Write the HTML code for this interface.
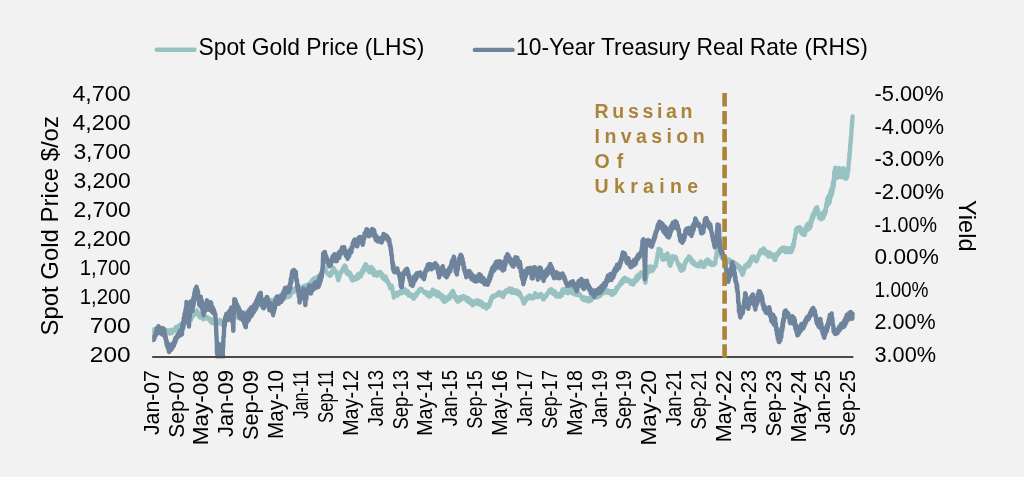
<!DOCTYPE html>
<html><head><meta charset="utf-8"><title>Spot Gold Price vs 10-Year Treasury Real Rate</title>
<style>html,body{margin:0;padding:0;background:#f2f2f2;}svg{display:block;}text{font-family:"Liberation Sans", Arial, sans-serif;fill:#000;}</style>
</head><body>
<svg width="1024" height="477" viewBox="0 0 1024 477">
<rect x="0" y="0" width="1024" height="477" fill="#f2f2f2"/>
<line x1="156.8" y1="49.8" x2="194.4" y2="49.8" stroke="#98c2c2" stroke-width="4.4" stroke-linecap="round"/>
<text x="198.5" y="54.8" font-size="24" textLength="225.8" lengthAdjust="spacingAndGlyphs">Spot Gold Price (LHS)</text>
<line x1="474.8" y1="49.9" x2="512.6" y2="49.9" stroke="#6e849d" stroke-width="4.4" stroke-linecap="round"/>
<text x="516.0" y="54.8" font-size="24" textLength="351.8" lengthAdjust="spacingAndGlyphs">10-Year Treasury Real Rate (RHS)</text>
<text transform="translate(57.5,335.5) rotate(-90)" font-size="24" textLength="219.4" lengthAdjust="spacingAndGlyphs">Spot Gold Price $/oz</text>
<text transform="translate(959.3,200.0) rotate(90)" font-size="24" textLength="51.5" lengthAdjust="spacingAndGlyphs">Yield</text>
<text x="130.7" y="100.65" font-size="21.8" text-anchor="end" textLength="58.3" lengthAdjust="spacingAndGlyphs">4,700</text>
<text x="130.7" y="129.69" font-size="21.8" text-anchor="end" textLength="58.3" lengthAdjust="spacingAndGlyphs">4,200</text>
<text x="130.7" y="158.73" font-size="21.8" text-anchor="end" textLength="57.3" lengthAdjust="spacingAndGlyphs">3,700</text>
<text x="130.7" y="187.77" font-size="21.8" text-anchor="end" textLength="57.3" lengthAdjust="spacingAndGlyphs">3,200</text>
<text x="130.7" y="216.81" font-size="21.8" text-anchor="end" textLength="57.3" lengthAdjust="spacingAndGlyphs">2,700</text>
<text x="130.7" y="245.85" font-size="21.8" text-anchor="end" textLength="57.3" lengthAdjust="spacingAndGlyphs">2,200</text>
<text x="130.7" y="274.89" font-size="21.8" text-anchor="end" textLength="51.0" lengthAdjust="spacingAndGlyphs">1,700</text>
<text x="130.7" y="303.93" font-size="21.8" text-anchor="end" textLength="51.0" lengthAdjust="spacingAndGlyphs">1,200</text>
<text x="130.7" y="332.97" font-size="21.8" text-anchor="end" textLength="40.9" lengthAdjust="spacingAndGlyphs">700</text>
<text x="130.7" y="362.01" font-size="21.8" text-anchor="end" textLength="40.9" lengthAdjust="spacingAndGlyphs">200</text>
<text x="874.5" y="101.20" font-size="21.8" textLength="69.1" lengthAdjust="spacingAndGlyphs">-5.00%</text>
<text x="874.5" y="133.80" font-size="21.8" textLength="69.6" lengthAdjust="spacingAndGlyphs">-4.00%</text>
<text x="874.5" y="166.40" font-size="21.8" textLength="69.6" lengthAdjust="spacingAndGlyphs">-3.00%</text>
<text x="874.5" y="199.00" font-size="21.8" textLength="69.6" lengthAdjust="spacingAndGlyphs">-2.00%</text>
<text x="874.5" y="231.60" font-size="21.8" textLength="62.4" lengthAdjust="spacingAndGlyphs">-1.00%</text>
<text x="874.5" y="264.20" font-size="21.8" textLength="64.3" lengthAdjust="spacingAndGlyphs">0.00%</text>
<text x="874.5" y="296.80" font-size="21.8" textLength="54.0" lengthAdjust="spacingAndGlyphs">1.00%</text>
<text x="874.5" y="329.40" font-size="21.8" textLength="61.1" lengthAdjust="spacingAndGlyphs">2.00%</text>
<text x="874.5" y="362.00" font-size="21.8" textLength="61.6" lengthAdjust="spacingAndGlyphs">3.00%</text>
<text transform="translate(158.70,370.1) rotate(-90)" font-size="21.8" text-anchor="end" textLength="64.9" lengthAdjust="spacingAndGlyphs">Jan-07</text>
<text transform="translate(183.58,370.1) rotate(-90)" font-size="21.8" text-anchor="end" textLength="67.7" lengthAdjust="spacingAndGlyphs">Sep-07</text>
<text transform="translate(208.46,370.1) rotate(-90)" font-size="21.8" text-anchor="end" textLength="75.1" lengthAdjust="spacingAndGlyphs">May-08</text>
<text transform="translate(233.34,370.1) rotate(-90)" font-size="21.8" text-anchor="end" textLength="66.9" lengthAdjust="spacingAndGlyphs">Jan-09</text>
<text transform="translate(258.22,370.1) rotate(-90)" font-size="21.8" text-anchor="end" textLength="69.9" lengthAdjust="spacingAndGlyphs">Sep-09</text>
<text transform="translate(283.10,370.1) rotate(-90)" font-size="21.8" text-anchor="end" textLength="68.8" lengthAdjust="spacingAndGlyphs">May-10</text>
<text transform="translate(307.98,370.1) rotate(-90)" font-size="21.8" text-anchor="end" textLength="48.6" lengthAdjust="spacingAndGlyphs">Jan-11</text>
<text transform="translate(332.86,370.1) rotate(-90)" font-size="21.8" text-anchor="end" textLength="52.9" lengthAdjust="spacingAndGlyphs">Sep-11</text>
<text transform="translate(357.74,370.1) rotate(-90)" font-size="21.8" text-anchor="end" textLength="65.7" lengthAdjust="spacingAndGlyphs">May-12</text>
<text transform="translate(382.62,370.1) rotate(-90)" font-size="21.8" text-anchor="end" textLength="56.1" lengthAdjust="spacingAndGlyphs">Jan-13</text>
<text transform="translate(407.50,370.1) rotate(-90)" font-size="21.8" text-anchor="end" textLength="59.3" lengthAdjust="spacingAndGlyphs">Sep-13</text>
<text transform="translate(432.38,370.1) rotate(-90)" font-size="21.8" text-anchor="end" textLength="65.7" lengthAdjust="spacingAndGlyphs">May-14</text>
<text transform="translate(457.26,370.1) rotate(-90)" font-size="21.8" text-anchor="end" textLength="56.1" lengthAdjust="spacingAndGlyphs">Jan-15</text>
<text transform="translate(482.14,370.1) rotate(-90)" font-size="21.8" text-anchor="end" textLength="58.7" lengthAdjust="spacingAndGlyphs">Sep-15</text>
<text transform="translate(507.02,370.1) rotate(-90)" font-size="21.8" text-anchor="end" textLength="65.7" lengthAdjust="spacingAndGlyphs">May-16</text>
<text transform="translate(531.90,370.1) rotate(-90)" font-size="21.8" text-anchor="end" textLength="56.1" lengthAdjust="spacingAndGlyphs">Jan-17</text>
<text transform="translate(556.78,370.1) rotate(-90)" font-size="21.8" text-anchor="end" textLength="58.7" lengthAdjust="spacingAndGlyphs">Sep-17</text>
<text transform="translate(581.66,370.1) rotate(-90)" font-size="21.8" text-anchor="end" textLength="65.7" lengthAdjust="spacingAndGlyphs">May-18</text>
<text transform="translate(606.54,370.1) rotate(-90)" font-size="21.8" text-anchor="end" textLength="57.2" lengthAdjust="spacingAndGlyphs">Jan-19</text>
<text transform="translate(631.42,370.1) rotate(-90)" font-size="21.8" text-anchor="end" textLength="59.3" lengthAdjust="spacingAndGlyphs">Sep-19</text>
<text transform="translate(656.30,370.1) rotate(-90)" font-size="21.8" text-anchor="end" textLength="75.4" lengthAdjust="spacingAndGlyphs">May-20</text>
<text transform="translate(681.18,370.1) rotate(-90)" font-size="21.8" text-anchor="end" textLength="56.1" lengthAdjust="spacingAndGlyphs">Jan-21</text>
<text transform="translate(706.06,370.1) rotate(-90)" font-size="21.8" text-anchor="end" textLength="59.3" lengthAdjust="spacingAndGlyphs">Sep-21</text>
<text transform="translate(730.94,370.1) rotate(-90)" font-size="21.8" text-anchor="end" textLength="72.1" lengthAdjust="spacingAndGlyphs">May-22</text>
<text transform="translate(755.82,370.1) rotate(-90)" font-size="21.8" text-anchor="end" textLength="63.3" lengthAdjust="spacingAndGlyphs">Jan-23</text>
<text transform="translate(780.70,370.1) rotate(-90)" font-size="21.8" text-anchor="end" textLength="66.3" lengthAdjust="spacingAndGlyphs">Sep-23</text>
<text transform="translate(805.58,370.1) rotate(-90)" font-size="21.8" text-anchor="end" textLength="72.5" lengthAdjust="spacingAndGlyphs">May-24</text>
<text transform="translate(830.46,370.1) rotate(-90)" font-size="21.8" text-anchor="end" textLength="63.3" lengthAdjust="spacingAndGlyphs">Jan-25</text>
<text transform="translate(855.34,370.1) rotate(-90)" font-size="21.8" text-anchor="end" textLength="66.3" lengthAdjust="spacingAndGlyphs">Sep-25</text>
<clipPath id="pc"><rect x="152.2" y="0" width="704" height="358.3"/></clipPath>
<path clip-path="url(#pc)" d="M152.3,330.5 L152.8,332.1 L153.3,329.7 L153.8,331.3 L154.3,329.3 L154.8,330.9 L155.0,329.5 L155.3,331.3 L155.8,329.2 L156.3,332.2 L156.8,330.0 L157.3,332.0 L157.8,330.4 L158.3,332.4 L158.8,330.1 L159.3,332.8 L159.8,330.2 L160.0,333.0 L160.3,330.4 L160.8,332.2 L161.3,331.1 L161.8,332.5 L162.3,331.0 L162.8,331.9 L163.3,331.5 L163.8,332.2 L164.0,331.7 L164.3,331.9 L164.8,331.3 L165.3,332.0 L165.8,331.6 L166.3,332.2 L166.8,331.0 L167.0,332.7 L167.3,330.1 L167.8,332.9 L168.3,331.1 L168.8,333.2 L169.3,331.6 L169.8,333.5 L170.0,330.7 L170.3,332.8 L170.8,330.0 L171.3,332.5 L171.8,329.8 L172.0,333.0 L172.3,330.1 L172.8,331.4 L173.3,330.3 L173.8,330.6 L174.3,330.0 L174.8,330.4 L175.0,328.7 L175.3,330.5 L175.8,327.3 L176.3,329.3 L176.8,326.7 L177.3,329.1 L177.8,326.7 L178.3,327.0 L178.8,325.9 L179.3,326.9 L179.8,324.9 L180.0,326.1 L180.3,324.9 L180.8,326.0 L181.3,324.1 L181.8,325.9 L182.0,323.4 L182.3,325.3 L182.8,322.9 L183.3,324.5 L183.8,322.4 L184.3,324.0 L184.8,320.5 L185.3,322.6 L185.8,320.3 L186.3,322.4 L186.8,318.9 L187.3,321.4 L187.8,317.7 L188.0,320.1 L188.3,316.9 L188.8,320.3 L189.3,316.7 L189.8,319.4 L190.3,316.7 L190.8,320.2 L191.0,316.0 L191.3,319.0 L191.8,315.7 L192.3,317.1 L192.8,315.3 L193.0,316.0 L193.3,315.1 L193.8,315.0 L194.3,313.4 L194.8,314.3 L195.0,312.5 L195.3,314.5 L195.8,311.0 L196.3,313.8 L196.8,310.3 L197.0,312.9 L197.3,311.1 L197.8,313.7 L198.3,313.0 L198.8,315.2 L199.0,313.4 L199.3,316.7 L199.8,314.7 L200.3,317.6 L200.8,315.9 L201.0,317.4 L201.3,316.2 L201.8,317.8 L202.3,317.8 L202.8,318.7 L203.0,318.1 L203.3,319.2 L203.8,318.3 L204.3,318.6 L204.8,317.3 L205.3,317.8 L205.8,316.7 L206.0,317.5 L206.3,317.2 L206.8,318.5 L207.3,317.1 L207.8,318.6 L208.3,317.8 L208.8,319.4 L209.0,318.3 L209.3,319.7 L209.8,318.7 L210.3,321.4 L210.8,318.8 L211.3,322.1 L211.8,319.6 L212.3,323.1 L212.4,320.3 L212.8,322.7 L213.3,320.2 L213.8,322.6 L214.3,321.3 L214.8,322.2 L215.3,321.5 L215.5,322.9 L215.8,321.4 L216.3,322.9 L216.8,321.2 L217.3,323.4 L217.8,321.8 L218.3,322.8 L218.6,321.7 L218.8,323.0 L219.3,320.6 L219.8,322.6 L220.0,320.0 L220.3,322.8 L220.8,320.6 L221.3,324.0 L221.7,321.6 L221.8,324.5 L222.3,321.6 L222.8,324.3 L223.3,320.6 L223.8,323.5 L224.3,320.4 L224.8,321.4 L225.3,320.0 L225.8,320.9 L226.3,319.7 L226.8,320.0 L227.3,318.8 L227.8,320.1 L227.9,318.1 L228.3,318.0 L228.8,316.7 L229.3,316.7 L229.8,314.6 L230.3,315.0 L230.8,313.8 L231.0,313.9 L231.3,313.2 L231.8,314.4 L232.3,313.2 L232.8,314.7 L233.3,313.2 L233.8,315.4 L234.1,313.7 L234.3,315.5 L234.8,313.9 L235.3,316.6 L235.8,314.2 L236.3,316.8 L236.8,314.6 L237.2,317.5 L237.3,314.8 L237.8,317.5 L238.3,314.8 L238.8,316.9 L239.3,314.2 L239.8,316.1 L240.3,313.2 L240.8,315.8 L241.3,312.9 L241.8,315.2 L242.3,312.3 L242.8,313.7 L243.3,313.1 L243.4,314.0 L243.8,313.0 L244.3,314.4 L244.8,312.5 L245.3,314.2 L245.8,312.4 L246.3,314.9 L246.5,313.4 L246.8,315.1 L247.3,313.2 L247.8,314.1 L248.3,312.6 L248.8,314.0 L249.3,312.2 L249.6,313.7 L249.8,312.4 L250.3,314.2 L250.8,312.1 L251.3,312.9 L251.8,310.9 L252.3,312.8 L252.7,310.2 L252.8,312.2 L253.3,309.1 L253.8,310.6 L254.3,308.2 L254.8,310.7 L255.3,307.3 L255.8,309.4 L256.3,306.8 L256.8,307.6 L257.3,304.4 L257.8,305.7 L258.3,303.2 L258.8,305.0 L258.9,301.5 L259.3,303.2 L259.8,302.0 L260.3,303.5 L260.8,301.2 L261.3,303.5 L261.8,300.9 L262.0,304.1 L262.3,301.2 L262.8,303.7 L263.3,301.0 L263.8,304.2 L264.3,301.2 L264.8,303.7 L265.2,302.5 L265.3,303.7 L265.8,302.9 L266.3,303.7 L266.8,302.9 L267.3,304.3 L267.8,303.1 L268.3,305.8 L268.8,301.9 L269.3,304.2 L269.8,301.2 L270.3,303.1 L270.8,300.1 L271.3,301.8 L271.4,300.4 L271.8,301.2 L272.3,300.7 L272.8,301.2 L273.3,300.0 L273.8,300.5 L274.3,299.7 L274.5,300.5 L274.8,298.7 L275.3,300.5 L275.8,297.9 L276.3,299.9 L276.8,296.5 L277.3,298.5 L277.6,296.3 L277.8,298.6 L278.3,297.2 L278.8,298.6 L279.3,295.7 L279.8,298.6 L280.3,295.5 L280.7,298.1 L280.8,295.5 L281.3,299.2 L281.8,296.4 L282.3,299.8 L282.8,296.4 L283.3,299.0 L283.8,297.0 L284.3,298.8 L284.8,295.9 L285.3,297.7 L285.8,295.7 L286.3,296.9 L286.8,295.4 L286.9,296.5 L287.3,295.3 L287.8,297.2 L288.3,294.4 L288.8,296.8 L289.3,294.2 L289.8,296.4 L290.0,293.8 L290.3,295.3 L290.8,292.1 L291.3,293.4 L291.8,291.3 L292.3,292.7 L292.8,290.0 L293.1,292.2 L293.3,289.4 L293.8,292.1 L294.3,289.4 L294.8,291.1 L295.0,288.9 L295.3,290.0 L295.8,287.7 L296.2,288.7 L296.3,287.5 L296.8,288.7 L297.3,285.9 L297.8,288.8 L298.3,286.1 L298.8,289.0 L299.3,286.7 L299.8,289.4 L300.3,287.7 L300.8,289.0 L301.3,288.0 L301.8,289.5 L302.3,288.1 L302.4,289.2 L302.8,287.2 L303.3,288.1 L303.8,286.0 L304.3,287.3 L304.8,286.7 L305.3,287.5 L305.5,285.8 L305.8,287.4 L306.3,285.2 L306.8,288.2 L307.3,284.6 L307.8,287.1 L308.3,284.1 L308.6,287.3 L308.8,284.5 L309.3,286.3 L309.8,283.8 L310.3,284.6 L310.8,281.8 L311.3,284.2 L311.7,281.0 L311.8,283.8 L312.3,280.0 L312.8,282.4 L313.3,278.9 L313.8,281.1 L314.3,278.3 L314.8,280.2 L315.3,278.2 L315.8,279.5 L316.3,277.6 L316.8,279.9 L317.3,277.2 L317.8,278.4 L317.9,276.5 L318.3,278.0 L318.8,277.0 L319.3,277.1 L319.8,275.8 L320.3,277.0 L320.8,275.3 L321.0,277.3 L321.3,274.6 L321.8,274.2 L322.3,270.4 L322.8,271.4 L323.2,266.2 L323.3,270.3 L323.8,266.9 L324.3,271.0 L324.8,267.3 L325.0,270.3 L325.3,269.2 L325.8,270.7 L326.3,271.7 L326.8,272.6 L327.3,272.5 L327.8,274.0 L328.3,274.1 L328.8,274.9 L329.3,274.4 L329.8,275.6 L330.3,274.4 L330.7,275.4 L330.8,273.8 L331.3,274.6 L331.8,271.3 L332.3,272.5 L332.8,268.9 L333.3,269.9 L333.5,267.8 L333.8,270.2 L334.3,269.5 L334.8,271.0 L335.3,270.7 L335.8,272.7 L336.3,271.6 L336.8,274.7 L337.3,276.0 L337.8,278.0 L338.2,279.5 L338.3,280.3 L338.8,277.8 L339.3,277.1 L339.8,274.8 L340.1,274.5 L340.3,273.5 L340.8,273.4 L341.3,271.3 L341.8,271.7 L342.3,269.8 L342.8,269.3 L342.9,268.2 L343.3,268.6 L343.8,267.1 L344.3,267.4 L344.8,265.4 L345.3,268.9 L345.8,267.0 L346.3,272.2 L346.7,271.2 L346.8,273.3 L347.3,270.6 L347.8,274.1 L348.3,272.8 L348.8,274.1 L349.3,272.8 L349.5,275.4 L349.8,272.8 L350.3,276.8 L350.8,274.3 L351.3,278.6 L351.8,276.4 L352.3,280.6 L352.4,277.7 L352.8,280.5 L353.3,277.1 L353.8,279.5 L354.3,277.3 L354.8,279.2 L355.2,278.2 L355.3,279.5 L355.8,278.3 L356.3,279.1 L356.8,276.0 L357.3,278.7 L357.8,274.7 L358.0,277.3 L358.3,273.9 L358.8,277.7 L359.3,273.6 L359.8,276.7 L360.3,273.3 L360.8,276.4 L361.3,272.3 L361.8,273.8 L362.3,270.1 L362.8,272.8 L363.3,268.5 L363.7,270.6 L363.8,267.3 L364.3,270.6 L364.8,265.5 L365.3,269.2 L365.6,264.2 L365.8,268.5 L366.3,264.9 L366.8,268.5 L367.3,266.3 L367.5,268.3 L367.8,267.7 L368.3,270.4 L368.8,268.7 L369.3,272.2 L369.8,268.7 L370.3,271.6 L370.8,267.1 L371.2,269.7 L371.3,266.9 L371.8,271.4 L372.3,268.4 L372.8,272.9 L373.3,269.3 L373.8,275.0 L374.1,270.8 L374.3,274.6 L374.8,271.5 L375.3,273.7 L375.8,272.4 L376.3,275.1 L376.8,273.2 L376.9,275.9 L377.3,273.2 L377.8,274.5 L378.3,272.5 L378.8,274.0 L379.3,272.1 L379.7,273.9 L379.8,271.9 L380.3,273.6 L380.8,272.4 L381.3,275.6 L381.8,273.7 L382.3,277.8 L382.5,274.8 L382.8,278.2 L383.3,276.2 L383.8,278.9 L384.3,276.8 L384.8,279.8 L385.3,276.4 L385.4,279.3 L385.8,276.9 L386.3,280.8 L386.8,279.5 L387.3,281.7 L387.8,281.9 L388.2,282.9 L388.3,282.0 L388.8,284.5 L389.3,284.5 L389.8,286.8 L390.1,286.0 L390.3,288.3 L390.8,285.9 L391.3,288.8 L391.8,285.7 L391.9,289.0 L392.3,287.9 L392.8,292.8 L393.3,292.4 L393.8,297.5 L394.3,294.9 L394.8,296.3 L395.3,294.4 L395.8,294.7 L396.3,293.3 L396.6,295.5 L396.8,292.9 L397.3,295.6 L397.8,292.5 L398.3,294.6 L398.8,292.9 L399.3,293.5 L399.4,292.1 L399.8,293.3 L400.3,292.0 L400.8,293.1 L401.3,290.4 L401.8,293.3 L402.3,291.3 L402.8,292.8 L403.3,290.7 L403.8,292.1 L404.3,289.3 L404.8,291.9 L405.1,289.4 L405.3,291.8 L405.8,289.9 L406.3,293.2 L406.8,290.8 L407.3,293.8 L407.8,291.1 L407.9,294.6 L408.3,292.7 L408.8,295.5 L409.3,293.4 L409.8,295.3 L410.3,294.0 L410.8,295.6 L411.3,294.8 L411.8,297.1 L412.3,294.9 L412.8,297.0 L413.3,295.9 L413.6,298.9 L413.8,296.5 L414.3,298.1 L414.8,295.9 L415.3,296.6 L415.8,294.3 L416.3,295.5 L416.4,293.2 L416.8,294.3 L417.3,292.6 L417.8,293.2 L418.3,291.0 L418.8,291.0 L419.2,289.4 L419.3,291.1 L419.8,289.8 L420.3,289.9 L420.8,288.8 L421.1,289.0 L421.3,289.0 L421.8,289.1 L422.3,290.8 L422.8,291.0 L423.3,291.6 L423.8,291.8 L424.0,292.0 L424.3,292.8 L424.8,292.2 L425.3,292.7 L425.8,292.0 L426.3,293.9 L426.8,292.8 L427.3,295.3 L427.8,292.8 L428.3,295.5 L428.8,294.9 L429.3,296.6 L429.6,294.5 L429.8,296.6 L430.3,293.9 L430.8,295.7 L431.3,291.9 L431.8,294.5 L432.3,290.6 L432.5,294.1 L432.8,289.7 L433.3,293.1 L433.8,290.4 L434.3,293.3 L434.8,290.9 L435.3,293.9 L435.8,291.6 L436.3,295.4 L436.8,292.3 L437.3,296.0 L437.8,292.0 L438.1,296.2 L438.3,292.5 L438.8,296.2 L439.3,293.5 L439.8,296.0 L440.3,294.6 L440.8,297.4 L440.9,295.1 L441.3,297.0 L441.8,295.1 L442.3,299.4 L442.8,296.2 L443.3,300.9 L443.8,298.1 L444.3,301.9 L444.8,297.2 L445.3,300.4 L445.8,297.8 L446.3,300.8 L446.6,297.7 L446.8,300.5 L447.3,297.4 L447.8,299.7 L448.3,297.3 L448.8,298.4 L449.3,295.4 L449.4,298.8 L449.8,295.1 L450.3,297.4 L450.8,293.9 L451.3,295.5 L451.8,291.9 L452.3,293.7 L452.8,290.9 L453.3,294.9 L453.8,293.0 L454.3,296.8 L454.8,295.4 L455.1,298.1 L455.3,296.0 L455.8,299.3 L456.3,296.8 L456.8,300.4 L457.3,298.0 L457.8,301.8 L458.3,299.2 L458.8,301.2 L459.3,297.5 L459.8,300.5 L460.3,298.1 L460.7,300.0 L460.8,296.9 L461.3,299.4 L461.8,297.3 L462.3,298.9 L462.8,296.3 L463.3,298.4 L463.5,296.0 L463.8,297.9 L464.3,297.3 L464.8,298.3 L465.3,297.5 L465.8,299.6 L466.3,297.3 L466.8,300.7 L467.3,298.2 L467.8,301.4 L468.3,298.1 L468.8,301.9 L469.2,300.2 L469.3,302.5 L469.8,299.9 L470.3,303.0 L470.8,300.2 L471.3,303.6 L471.8,301.2 L472.0,304.7 L472.3,302.0 L472.8,305.3 L473.3,301.7 L473.8,303.8 L474.3,302.3 L474.8,303.2 L475.3,301.4 L475.8,303.6 L476.3,300.5 L476.8,303.0 L477.3,300.7 L477.6,303.6 L477.8,300.5 L478.3,304.3 L478.8,300.8 L479.3,304.2 L479.8,301.9 L480.3,303.4 L480.5,301.6 L480.8,304.4 L481.3,302.2 L481.8,305.3 L482.3,303.0 L482.8,306.7 L483.3,303.7 L483.8,306.6 L484.3,304.8 L484.8,307.1 L485.3,305.1 L485.8,307.6 L486.1,306.3 L486.3,308.6 L486.8,305.0 L487.3,307.3 L487.8,304.5 L488.3,306.9 L488.8,304.4 L489.0,306.6 L489.3,304.2 L489.8,304.5 L490.3,300.7 L490.8,301.9 L491.3,297.5 L491.8,298.7 L492.3,296.2 L492.8,298.0 L493.3,295.8 L493.8,297.2 L494.3,295.4 L494.6,296.5 L494.8,295.4 L495.3,295.9 L495.8,295.5 L496.3,295.5 L496.8,294.0 L497.3,295.1 L497.5,294.0 L497.8,295.2 L498.3,292.9 L498.8,294.5 L499.3,292.1 L499.8,294.9 L500.3,292.5 L500.8,295.2 L501.3,292.9 L501.8,295.9 L502.3,294.0 L502.8,296.6 L503.1,293.8 L503.3,297.0 L503.8,293.5 L504.3,295.0 L504.8,291.6 L505.3,292.8 L505.8,290.4 L505.9,292.1 L506.3,290.9 L506.8,291.8 L507.3,290.5 L507.8,291.7 L508.3,289.4 L508.8,290.3 L509.3,288.6 L509.8,291.0 L510.3,288.7 L510.8,292.1 L511.3,288.9 L511.6,291.6 L511.8,288.8 L512.3,292.9 L512.8,289.9 L513.3,292.2 L513.8,290.5 L514.3,292.7 L514.4,290.1 L514.8,292.7 L515.3,290.5 L515.8,293.2 L516.3,290.3 L516.8,293.4 L517.3,291.5 L517.8,294.0 L518.3,291.4 L518.8,294.0 L519.3,292.3 L519.8,295.3 L520.1,293.1 L520.3,295.3 L520.8,295.2 L521.3,297.5 L521.8,297.4 L521.9,298.5 L522.3,298.6 L522.8,300.9 L523.3,301.0 L523.8,303.6 L524.3,301.1 L524.8,302.2 L525.3,299.3 L525.8,301.0 L526.3,298.0 L526.6,299.3 L526.8,297.1 L527.3,299.0 L527.8,296.8 L528.3,298.3 L528.8,296.5 L529.3,298.1 L529.4,295.5 L529.8,297.3 L530.3,296.1 L530.8,297.7 L531.3,297.0 L531.8,298.3 L532.3,297.1 L532.8,298.4 L533.3,295.9 L533.8,297.9 L534.3,294.9 L534.8,295.8 L535.1,293.1 L535.3,296.7 L535.8,294.4 L536.3,296.5 L536.8,295.5 L537.3,297.1 L537.8,297.1 L537.9,296.8 L538.3,295.9 L538.8,296.6 L539.3,294.6 L539.8,296.2 L540.3,294.1 L540.8,295.1 L541.3,294.1 L541.8,296.5 L542.3,295.6 L542.8,298.9 L543.3,296.8 L543.6,299.6 L543.8,296.7 L544.3,298.1 L544.8,295.7 L545.3,297.3 L545.8,295.2 L546.3,296.4 L546.4,295.2 L546.8,294.5 L547.3,293.4 L547.8,293.8 L548.3,292.6 L548.8,291.9 L549.2,290.3 L549.3,291.4 L549.8,289.7 L550.3,291.6 L550.8,289.9 L551.1,291.3 L551.3,289.3 L551.8,292.6 L552.3,290.1 L552.8,293.4 L553.3,291.8 L553.8,294.2 L554.0,291.2 L554.3,294.2 L554.8,291.5 L555.3,295.6 L555.8,292.8 L556.3,296.5 L556.8,294.0 L557.3,296.4 L557.8,294.0 L558.3,296.3 L558.8,293.9 L559.3,296.5 L559.6,294.7 L559.8,296.9 L560.3,293.9 L560.8,296.2 L561.3,292.7 L561.8,295.7 L562.3,290.3 L562.5,293.6 L562.8,289.4 L563.3,292.8 L563.8,289.5 L564.3,292.0 L564.8,289.0 L565.3,292.0 L565.8,288.5 L566.3,292.4 L566.8,288.1 L567.3,293.0 L567.8,289.4 L568.1,293.2 L568.3,288.8 L568.8,292.0 L569.3,288.2 L569.8,292.2 L570.3,287.2 L570.8,291.6 L570.9,287.9 L571.3,291.7 L571.8,289.1 L572.3,293.2 L572.8,290.1 L573.3,293.4 L573.8,291.4 L574.3,293.9 L574.8,291.6 L575.3,294.6 L575.8,293.0 L576.3,294.7 L576.6,293.0 L576.8,294.6 L577.3,293.1 L577.8,295.1 L578.3,294.1 L578.8,294.3 L579.3,293.5 L579.4,295.3 L579.8,294.3 L580.3,295.8 L580.8,296.2 L581.3,297.2 L581.8,297.3 L582.3,299.1 L582.8,297.7 L583.3,299.1 L583.8,297.1 L584.3,300.3 L584.8,298.4 L585.1,300.1 L585.3,298.5 L585.8,300.3 L586.3,298.3 L586.8,300.4 L587.3,297.9 L587.8,301.2 L588.3,298.1 L588.8,301.2 L589.3,298.0 L589.8,301.0 L590.3,297.4 L590.7,300.5 L590.8,297.1 L591.3,300.1 L591.8,296.4 L592.3,298.6 L592.8,296.1 L593.3,297.8 L593.5,296.2 L593.8,297.4 L594.3,296.6 L594.8,297.6 L595.3,296.5 L595.8,297.6 L596.3,296.5 L596.8,297.1 L597.3,296.1 L597.8,297.2 L598.3,295.1 L598.8,296.5 L599.2,293.8 L599.3,296.3 L599.8,293.4 L600.3,295.9 L600.8,292.4 L601.3,294.7 L601.8,291.5 L602.0,293.9 L602.3,291.0 L602.8,293.6 L603.3,289.9 L603.8,292.0 L604.3,289.5 L604.8,291.2 L605.3,289.2 L605.8,291.8 L606.3,289.4 L606.8,292.7 L607.3,289.9 L607.6,292.1 L607.8,290.7 L608.3,292.3 L608.8,291.1 L609.3,293.0 L609.8,291.6 L610.3,293.3 L610.5,291.3 L610.8,293.9 L611.3,291.1 L611.8,294.7 L612.3,292.5 L612.8,294.6 L613.3,292.6 L613.8,293.7 L614.3,290.7 L614.8,293.1 L615.3,290.3 L615.8,291.0 L616.1,289.1 L616.3,290.6 L616.8,287.3 L617.3,288.6 L617.8,286.8 L618.3,287.4 L618.8,285.5 L619.0,286.3 L619.3,284.7 L619.8,285.0 L620.3,283.2 L620.8,284.2 L621.3,281.6 L621.8,283.4 L622.3,280.1 L622.8,282.4 L623.3,278.8 L623.8,281.2 L624.3,278.7 L624.6,280.3 L624.8,277.6 L625.3,280.5 L625.8,278.4 L626.3,280.8 L626.8,279.4 L627.3,280.8 L627.5,279.7 L627.8,280.3 L628.3,279.5 L628.8,281.4 L629.3,280.1 L629.8,282.3 L630.3,280.8 L630.8,283.7 L631.3,281.5 L631.8,283.9 L632.3,281.5 L632.8,284.4 L633.1,282.6 L633.3,284.6 L633.8,280.5 L634.3,283.0 L634.8,280.0 L635.3,281.4 L635.8,278.1 L635.9,280.8 L636.3,276.9 L636.8,280.8 L637.3,275.8 L637.8,279.3 L638.3,275.0 L638.8,278.1 L639.3,274.5 L639.8,276.2 L640.3,273.1 L640.8,275.0 L641.3,272.3 L641.6,274.0 L641.8,272.4 L642.3,274.8 L642.8,272.8 L643.3,275.5 L643.5,273.0 L643.8,277.5 L644.3,276.8 L644.8,280.9 L645.3,280.2 L645.4,282.9 L645.8,277.3 L646.3,277.1 L646.8,271.0 L647.3,270.6 L647.8,267.7 L648.3,272.4 L648.8,266.8 L649.3,271.9 L649.8,266.9 L650.1,270.7 L650.3,266.5 L650.8,270.1 L651.3,266.8 L651.8,270.5 L652.3,267.0 L652.8,270.7 L653.3,267.8 L653.8,268.8 L654.3,266.7 L654.8,266.7 L655.3,265.8 L655.7,266.3 L655.8,264.2 L656.3,263.0 L656.8,259.7 L657.3,258.0 L657.8,253.1 L658.3,252.4 L658.5,249.0 L658.8,251.8 L659.3,249.7 L659.8,252.1 L660.3,249.3 L660.4,251.7 L660.8,250.1 L661.3,255.1 L661.8,254.6 L662.3,259.5 L662.8,256.7 L663.3,259.6 L663.8,256.3 L664.3,259.1 L664.8,255.1 L665.1,258.6 L665.3,255.2 L665.8,259.4 L666.3,255.0 L666.8,258.5 L667.3,253.5 L667.8,258.1 L667.9,254.0 L668.3,259.0 L668.8,258.7 L669.3,264.1 L669.8,263.8 L670.3,265.7 L670.8,260.4 L671.3,263.2 L671.8,257.5 L672.3,260.3 L672.6,256.3 L672.8,258.8 L673.3,256.8 L673.8,257.8 L674.3,257.3 L674.8,257.2 L675.3,256.8 L675.5,257.0 L675.8,257.3 L676.3,258.8 L676.8,260.4 L677.3,261.8 L677.8,262.6 L678.3,264.8 L678.8,264.1 L679.3,266.9 L679.8,265.0 L680.3,269.5 L680.8,266.2 L681.1,270.7 L681.3,267.1 L681.8,270.1 L682.3,266.0 L682.8,270.0 L683.3,265.5 L683.8,269.1 L684.0,265.2 L684.3,266.9 L684.8,263.0 L685.3,263.7 L685.8,261.1 L686.3,261.4 L686.8,259.4 L687.3,260.1 L687.8,258.2 L688.3,258.6 L688.8,256.6 L689.3,257.7 L689.6,256.6 L689.8,258.3 L690.3,257.5 L690.8,260.0 L691.3,259.6 L691.8,262.4 L692.3,260.4 L692.5,262.9 L692.8,260.6 L693.3,263.7 L693.8,262.1 L694.3,264.1 L694.8,263.4 L695.3,265.3 L695.8,264.0 L696.3,265.2 L696.8,264.6 L697.3,266.1 L697.8,264.8 L698.1,266.2 L698.3,264.1 L698.8,266.2 L699.3,263.0 L699.8,266.2 L700.3,262.4 L700.8,265.5 L700.9,261.4 L701.3,265.5 L701.8,262.6 L702.3,266.2 L702.8,263.1 L703.3,266.9 L703.8,264.4 L704.3,266.8 L704.8,262.3 L705.3,265.0 L705.8,261.0 L706.3,263.6 L706.8,260.4 L707.3,262.2 L707.5,259.5 L707.8,262.1 L708.3,260.6 L708.8,263.2 L709.3,260.9 L709.8,264.0 L710.3,262.1 L710.8,264.5 L711.3,263.6 L711.8,265.0 L712.3,263.4 L712.8,264.5 L713.3,262.9 L713.8,264.8 L714.3,262.6 L714.8,264.0 L715.1,262.0 L715.3,263.6 L715.8,257.2 L716.3,257.6 L716.8,251.7 L717.3,251.4 L717.6,246.7 L717.8,249.4 L718.3,248.0 L718.8,251.4 L719.3,249.7 L719.8,254.1 L720.1,252.4 L720.3,254.6 L720.8,253.8 L721.3,256.4 L721.8,255.1 L722.3,258.2 L722.6,256.7 L722.8,257.8 L723.3,257.6 L723.8,259.0 L724.3,258.1 L724.8,258.8 L725.1,259.5 L725.3,259.4 L725.8,259.0 L726.3,260.3 L726.8,258.9 L727.3,260.0 L727.8,259.6 L728.3,260.5 L728.8,259.6 L728.9,261.7 L729.3,259.7 L729.8,262.4 L730.3,260.8 L730.8,262.5 L731.3,261.2 L731.8,263.3 L732.3,261.8 L732.7,264.2 L732.8,261.8 L733.3,264.3 L733.8,262.9 L734.3,264.9 L734.8,262.8 L735.3,265.5 L735.8,263.6 L736.3,266.4 L736.5,264.2 L736.8,266.4 L737.3,264.6 L737.8,267.5 L738.3,265.9 L738.8,267.7 L739.3,266.1 L739.8,268.9 L740.2,267.5 L740.3,270.3 L740.8,267.9 L741.3,271.6 L741.8,270.4 L742.3,274.8 L742.7,271.4 L742.8,274.6 L743.3,269.9 L743.8,272.0 L744.3,267.8 L744.8,269.1 L745.2,265.5 L745.3,267.6 L745.8,265.9 L746.3,266.5 L746.8,265.1 L747.3,265.7 L747.8,263.4 L748.3,266.3 L748.8,263.4 L749.0,265.8 L749.3,261.4 L749.8,264.0 L750.3,260.2 L750.8,262.3 L751.3,257.9 L751.5,260.0 L751.8,256.9 L752.3,259.6 L752.8,257.0 L753.3,259.0 L753.8,256.6 L754.0,258.6 L754.3,257.4 L754.8,259.4 L755.3,258.4 L755.8,261.0 L756.3,258.7 L756.6,261.4 L756.8,259.0 L757.3,259.7 L757.8,256.3 L758.3,256.8 L758.8,254.8 L759.3,254.9 L759.8,252.2 L760.3,253.0 L760.8,250.1 L761.3,252.5 L761.8,250.7 L762.3,252.5 L762.8,249.2 L763.3,251.1 L763.8,248.5 L764.1,251.4 L764.3,249.2 L764.8,253.5 L765.3,250.7 L765.8,253.5 L766.3,251.6 L766.8,254.6 L767.3,252.0 L767.8,255.6 L767.9,253.4 L768.3,256.6 L768.8,252.3 L769.3,256.5 L769.8,253.9 L770.3,256.0 L770.8,253.7 L771.3,256.4 L771.6,254.2 L771.8,256.4 L772.3,254.1 L772.8,257.0 L773.3,255.4 L773.8,258.3 L774.3,256.0 L774.8,260.0 L775.3,256.8 L775.4,259.8 L775.8,255.7 L776.3,256.9 L776.8,253.6 L777.1,255.5 L777.3,253.3 L777.8,254.0 L778.3,252.5 L778.8,253.8 L779.2,250.6 L779.3,252.4 L779.8,250.0 L780.3,251.6 L780.8,248.9 L781.3,251.1 L781.8,248.6 L782.3,250.1 L782.8,247.6 L783.3,250.8 L783.8,248.0 L784.3,250.8 L784.8,248.2 L785.3,251.5 L785.5,247.6 L785.8,252.3 L786.3,249.2 L786.8,252.2 L787.3,249.2 L787.8,252.0 L788.3,248.5 L788.6,252.1 L788.8,248.7 L789.3,251.8 L789.8,248.3 L790.3,252.1 L790.8,248.0 L791.3,252.0 L791.8,247.8 L792.3,250.4 L792.8,244.7 L793.3,246.9 L793.8,242.1 L793.9,244.8 L794.3,239.8 L794.8,239.2 L795.3,234.4 L795.8,233.4 L796.0,229.7 L796.3,231.8 L796.8,228.2 L797.3,230.9 L797.8,227.7 L798.1,229.8 L798.3,227.8 L798.8,230.1 L799.3,227.2 L799.8,230.2 L800.2,227.4 L800.3,229.5 L800.8,229.0 L801.3,233.0 L801.8,230.6 L802.3,233.9 L802.8,231.3 L803.3,234.7 L803.8,231.1 L804.3,234.9 L804.4,230.6 L804.8,234.8 L805.3,228.1 L805.8,231.4 L806.3,226.1 L806.5,230.1 L806.8,224.9 L807.3,230.0 L807.8,224.3 L808.3,229.2 L808.6,223.5 L808.8,229.1 L809.3,223.6 L809.8,228.1 L810.3,222.2 L810.7,226.5 L810.8,220.4 L811.3,223.2 L811.8,217.2 L812.3,220.2 L812.8,214.4 L813.3,217.4 L813.8,212.7 L814.3,214.7 L814.8,210.8 L814.9,212.9 L815.3,209.5 L815.8,212.7 L816.3,207.8 L816.8,210.5 L817.0,207.3 L817.3,211.5 L817.8,209.5 L818.3,214.5 L818.8,213.0 L819.1,217.8 L819.3,214.4 L819.8,218.3 L820.3,214.3 L820.8,219.0 L821.2,213.6 L821.3,219.3 L821.8,213.8 L822.3,218.0 L822.8,213.4 L823.2,218.1 L823.3,213.4 L823.8,216.4 L824.3,211.0 L824.8,214.5 L825.3,209.3 L825.8,211.6 L826.3,204.2 L826.8,206.5 L827.3,198.7 L827.4,203.7 L827.8,197.7 L828.3,204.1 L828.8,195.8 L829.3,203.1 L829.5,195.2 L829.8,201.7 L830.3,192.2 L830.8,197.0 L831.3,189.3 L831.6,195.3 L831.8,188.1 L832.3,192.5 L832.8,183.1 L833.3,188.2 L833.7,179.1 L833.8,186.0 L834.3,171.7 L834.8,174.6 L835.3,167.6 L835.8,177.2 L836.3,169.9 L836.8,178.1 L836.9,170.9 L837.3,177.8 L837.8,169.3 L838.3,176.9 L838.8,168.0 L839.0,175.7 L839.3,169.0 L839.8,176.7 L840.3,169.1 L840.8,176.8 L841.1,169.3 L841.3,177.4 L841.8,169.3 L842.3,176.6 L842.8,168.5 L843.2,175.0 L843.3,168.2 L843.8,176.0 L844.3,169.6 L844.8,178.0 L845.3,171.8 L845.8,178.9 L846.3,170.5 L846.8,177.6 L847.2,169.5 L847.3,177.0 L847.8,168.1 L848.3,170.8 L848.8,160.1 L849.3,159.4 L849.5,153.1 L849.8,153.6 L850.3,144.5 L850.6,143.7 L850.8,138.8 L851.3,134.5 L851.6,128.2 L851.8,127.2 L852.3,120.0 L852.6,116.5" fill="none" stroke="#98c2c2" stroke-width="4.4" stroke-linejoin="round" stroke-linecap="round"/>
<path clip-path="url(#pc)" d="M152.3,337.2 L152.8,340.1 L153.3,338.0 L153.8,339.8 L154.0,337.2 L154.3,339.1 L154.8,334.9 L155.3,336.1 L155.5,334.0 L155.8,335.2 L156.3,330.5 L156.6,332.6 L156.8,328.2 L157.3,333.2 L157.8,327.8 L158.3,333.3 L158.5,326.1 L158.8,332.9 L159.3,327.9 L159.8,331.6 L160.3,328.6 L160.4,332.7 L160.8,329.0 L161.3,333.3 L161.5,329.7 L161.8,334.2 L162.3,327.9 L162.8,334.9 L163.0,328.6 L163.3,334.1 L163.8,328.6 L164.2,334.6 L164.3,329.8 L164.8,336.6 L165.3,334.8 L165.5,339.1 L165.8,337.3 L166.3,342.8 L166.5,340.4 L166.8,345.4 L167.3,342.1 L167.8,348.1 L168.0,345.5 L168.3,349.4 L168.8,347.0 L169.0,352.0 L169.3,347.8 L169.8,350.8 L170.3,346.6 L170.8,350.3 L171.3,344.5 L171.8,348.9 L172.0,344.6 L172.3,348.3 L172.8,344.2 L173.3,346.3 L173.6,342.9 L173.8,345.9 L174.3,341.0 L174.8,343.4 L175.3,338.1 L175.5,341.5 L175.8,337.8 L176.3,339.4 L176.8,336.4 L177.3,337.1 L177.4,334.9 L177.8,336.7 L178.3,333.6 L178.8,336.4 L179.3,331.7 L179.8,335.5 L180.2,330.5 L180.3,334.9 L180.8,329.9 L181.3,334.5 L181.8,328.8 L182.0,334.5 L182.3,325.4 L182.8,329.1 L183.0,322.5 L183.3,327.8 L183.8,317.8 L184.3,322.0 L184.5,313.9 L184.8,320.3 L185.3,310.8 L185.5,317.2 L185.8,308.0 L186.3,311.4 L186.5,301.9 L186.8,312.7 L187.3,308.5 L187.8,321.2 L188.0,314.3 L188.3,323.7 L188.8,316.9 L189.0,326.6 L189.3,315.2 L189.8,317.7 L190.0,307.0 L190.3,312.7 L190.8,301.5 L191.0,306.8 L191.3,301.1 L191.8,308.3 L192.3,303.5 L192.5,311.2 L192.8,302.3 L193.3,306.4 L193.5,297.2 L193.8,304.1 L194.3,293.0 L194.8,298.5 L195.0,289.8 L195.3,297.4 L195.8,288.3 L196.3,294.3 L196.5,286.6 L196.8,293.9 L197.3,289.2 L197.8,297.9 L198.0,291.5 L198.3,300.0 L198.8,297.2 L199.3,305.0 L199.5,299.7 L199.8,305.6 L200.3,297.2 L200.5,303.0 L200.8,296.6 L201.3,307.4 L201.8,300.7 L202.0,308.5 L202.3,303.6 L202.8,312.4 L203.3,307.6 L203.5,315.3 L203.8,307.7 L204.3,313.1 L204.8,306.0 L205.0,311.1 L205.3,304.7 L205.8,308.3 L206.3,302.6 L206.8,306.0 L206.9,300.2 L207.3,306.4 L207.8,301.8 L208.3,309.8 L208.8,303.5 L209.3,309.0 L209.8,303.0 L210.3,307.7 L210.7,302.3 L210.8,308.1 L211.3,303.3 L211.8,311.5 L212.3,307.4 L212.5,312.5 L212.8,307.4 L213.3,313.1 L213.8,309.6 L214.3,313.2 L214.4,311.6 L214.8,315.2 L215.3,314.0 L215.5,318.0 L215.8,320.3 L216.3,332.7 L216.8,342.1 L217.0,353.7 L217.3,350.1 L217.8,359.0 L218.0,353.6 L218.3,359.0 L218.8,353.0 L219.3,359.0 L219.8,354.2 L220.0,359.0 L220.3,354.7 L220.8,359.0 L221.3,354.5 L221.8,359.0 L222.3,354.3 L222.6,359.0 L222.8,351.1 L223.3,344.5 L223.4,336.7 L223.8,336.8 L224.3,321.1 L224.8,325.9 L225.3,317.0 L225.8,320.1 L226.3,314.0 L226.8,320.0 L227.3,313.9 L227.6,320.0 L227.8,313.3 L228.3,319.2 L228.8,311.8 L229.3,319.5 L229.5,311.7 L229.8,319.2 L230.3,309.9 L230.8,317.0 L231.3,307.4 L231.4,314.9 L231.8,310.8 L232.3,322.0 L232.8,319.6 L233.3,330.8 L233.8,309.7 L234.2,305.8 L234.3,299.3 L234.8,306.9 L235.2,299.8 L235.3,308.2 L235.8,301.2 L236.3,308.1 L236.8,304.2 L237.1,307.9 L237.3,305.0 L237.8,310.8 L238.3,307.0 L238.8,314.0 L239.0,308.2 L239.3,316.8 L239.8,310.3 L240.3,318.6 L240.8,312.6 L241.3,318.4 L241.8,312.5 L242.3,318.5 L242.7,313.0 L242.8,320.1 L243.3,314.5 L243.8,322.2 L244.3,316.6 L244.6,324.6 L244.8,317.8 L245.3,326.8 L245.6,319.8 L245.8,327.3 L246.3,316.8 L246.5,322.5 L246.8,314.3 L247.3,321.9 L247.8,312.3 L248.3,320.0 L248.4,311.6 L248.8,320.1 L249.3,309.8 L249.8,317.6 L250.3,308.7 L250.8,316.2 L251.3,307.1 L251.8,315.7 L252.2,308.2 L252.3,314.3 L252.8,306.9 L253.3,312.7 L253.8,305.6 L254.1,311.8 L254.3,304.5 L254.8,309.8 L255.3,303.9 L255.8,308.6 L255.9,301.8 L256.3,307.1 L256.8,299.8 L257.3,305.3 L257.8,297.3 L258.3,302.4 L258.8,295.2 L259.3,300.3 L259.5,293.8 L259.8,299.9 L260.3,292.9 L260.7,297.3 L260.8,292.9 L261.3,301.8 L261.8,299.3 L261.9,305.7 L262.3,299.5 L262.8,307.7 L263.3,300.7 L263.8,308.4 L264.3,300.6 L264.8,306.5 L265.3,299.2 L265.7,304.8 L265.8,299.3 L266.3,304.3 L266.8,297.0 L267.3,302.4 L267.5,297.3 L267.8,303.0 L268.3,300.3 L268.8,307.2 L269.3,303.3 L269.4,310.3 L269.8,304.8 L270.3,309.4 L270.8,303.3 L271.3,308.7 L271.8,304.9 L272.3,312.4 L272.8,308.1 L273.2,315.2 L273.3,308.9 L273.8,312.2 L274.3,304.5 L274.8,308.9 L275.1,300.9 L275.3,306.2 L275.8,299.8 L276.3,304.1 L276.8,297.0 L277.0,303.6 L277.3,297.2 L277.8,303.8 L278.3,297.3 L278.8,303.9 L278.9,296.9 L279.3,302.6 L279.8,296.9 L280.3,302.2 L280.8,297.6 L281.3,301.8 L281.8,295.6 L282.3,300.0 L282.6,293.6 L282.8,299.2 L283.3,292.0 L283.8,297.7 L284.3,290.3 L284.5,295.6 L284.8,288.2 L285.3,293.0 L285.8,287.7 L286.3,292.0 L286.4,288.1 L286.8,292.4 L287.3,288.0 L287.8,292.4 L288.3,288.5 L288.8,292.0 L289.3,285.6 L289.8,289.6 L290.2,283.0 L290.3,288.2 L290.8,278.5 L291.3,282.5 L291.8,273.5 L292.1,276.7 L292.3,271.2 L292.8,276.2 L293.3,270.3 L293.8,274.3 L294.0,270.0 L294.3,275.2 L294.8,271.5 L295.3,277.1 L295.8,271.8 L296.3,280.6 L296.8,279.5 L297.3,287.2 L297.7,284.4 L297.8,291.0 L298.3,286.8 L298.8,296.6 L299.3,294.5 L299.6,302.6 L299.8,294.6 L300.3,299.6 L300.8,293.5 L301.3,298.3 L301.5,292.6 L301.8,297.1 L302.3,291.8 L302.8,294.6 L303.3,288.5 L303.4,293.2 L303.8,291.8 L304.3,299.0 L304.8,298.6 L305.3,305.0 L305.8,298.5 L306.3,299.1 L306.8,292.4 L307.2,293.1 L307.3,289.2 L307.8,292.5 L308.3,287.6 L308.8,290.7 L309.1,285.5 L309.3,291.2 L309.8,286.4 L310.3,293.0 L310.8,288.5 L310.9,293.6 L311.3,286.3 L311.8,291.3 L312.3,285.5 L312.8,290.1 L313.3,285.3 L313.8,288.8 L314.3,284.3 L314.7,287.8 L314.8,282.8 L315.3,288.3 L315.8,283.5 L316.3,287.1 L316.6,282.4 L316.8,287.3 L317.3,281.8 L317.8,287.0 L318.3,280.8 L318.5,287.0 L318.8,279.1 L319.3,285.0 L319.8,276.7 L320.3,282.1 L320.4,275.3 L320.8,280.0 L321.3,273.0 L321.8,277.2 L322.3,270.2 L322.8,265.7 L323.2,253.1 L323.3,257.5 L323.8,254.0 L324.3,257.5 L324.8,251.9 L325.1,256.9 L325.3,253.8 L325.8,259.4 L326.3,256.5 L326.8,260.8 L326.9,258.0 L327.3,262.6 L327.8,260.4 L328.3,264.3 L328.8,262.3 L329.3,266.4 L329.8,261.5 L330.3,265.4 L330.7,261.8 L330.8,265.2 L331.3,260.0 L331.8,262.0 L332.3,257.1 L332.5,258.2 L332.8,256.1 L333.3,258.2 L333.8,255.3 L334.3,258.9 L334.4,254.2 L334.8,259.4 L335.3,254.9 L335.8,261.2 L336.3,256.5 L336.8,261.1 L337.3,254.8 L337.8,258.7 L338.2,253.8 L338.3,258.3 L338.8,252.4 L339.3,257.7 L339.8,252.4 L340.1,255.2 L340.3,251.0 L340.8,254.0 L341.3,249.8 L341.8,252.7 L342.0,247.4 L342.3,252.5 L342.8,247.7 L343.3,252.2 L343.8,247.2 L343.9,250.5 L344.3,247.2 L344.8,253.6 L345.3,250.4 L345.8,255.9 L346.3,252.9 L346.8,256.9 L347.3,254.9 L347.6,258.8 L347.8,254.6 L348.3,257.4 L348.8,252.8 L349.3,255.8 L349.5,250.6 L349.8,253.3 L350.3,249.5 L350.8,252.8 L351.3,248.8 L351.4,252.2 L351.8,247.0 L352.3,248.0 L352.8,243.3 L353.3,244.5 L353.8,240.7 L354.3,242.7 L354.8,239.4 L355.2,242.1 L355.3,240.2 L355.8,243.6 L356.3,242.4 L356.8,246.2 L357.1,244.6 L357.3,246.3 L357.8,241.7 L358.3,243.2 L358.8,237.4 L359.0,240.8 L359.3,237.3 L359.8,240.4 L360.3,236.9 L360.8,240.9 L361.3,237.5 L361.8,242.5 L362.3,240.3 L362.7,244.8 L362.8,242.1 L363.3,242.7 L363.8,236.8 L364.3,238.5 L364.6,233.1 L364.8,235.8 L365.3,232.6 L365.8,234.5 L366.3,229.8 L366.5,233.4 L366.8,229.1 L367.3,234.7 L367.8,230.3 L368.3,235.6 L368.4,230.5 L368.8,236.3 L369.3,231.0 L369.8,235.9 L370.3,231.4 L370.8,235.3 L371.3,230.4 L371.8,234.4 L372.2,228.9 L372.3,233.4 L372.8,229.6 L373.3,234.3 L373.8,230.0 L374.1,235.3 L374.3,231.0 L374.8,237.3 L375.3,234.5 L375.8,240.0 L375.9,237.0 L376.3,240.1 L376.8,236.8 L377.3,241.2 L377.8,238.9 L378.3,241.5 L378.8,238.8 L379.3,241.4 L379.7,238.2 L379.8,241.2 L380.3,239.3 L380.8,241.8 L381.3,239.3 L381.6,242.6 L381.8,239.1 L382.3,241.1 L382.8,236.2 L383.3,239.0 L383.5,234.0 L383.8,238.2 L384.3,234.6 L384.8,236.9 L385.3,235.0 L385.4,236.5 L385.8,235.4 L386.3,238.5 L386.8,235.8 L387.3,239.4 L387.8,237.1 L388.3,240.9 L388.8,238.7 L389.2,242.1 L389.3,239.7 L389.8,245.5 L390.3,244.8 L390.8,250.3 L391.0,248.5 L391.3,254.7 L391.8,254.7 L392.3,263.6 L392.8,262.6 L392.9,269.0 L393.3,264.6 L393.8,271.3 L394.3,269.0 L394.4,272.2 L394.8,270.0 L395.3,271.3 L395.7,268.9 L395.8,272.3 L396.3,269.0 L396.8,271.0 L397.3,268.5 L397.5,270.9 L397.8,270.4 L398.3,273.4 L398.8,272.7 L399.3,276.0 L399.4,274.5 L399.8,278.0 L400.3,280.4 L400.8,285.9 L401.3,287.1 L401.8,287.1 L402.3,281.0 L402.8,279.9 L403.2,273.4 L403.3,275.1 L403.8,272.1 L404.3,274.0 L404.8,271.1 L405.1,273.8 L405.3,270.3 L405.8,272.7 L406.3,269.1 L406.8,270.3 L407.0,268.6 L407.3,272.0 L407.8,270.3 L408.3,275.6 L408.8,274.4 L408.9,277.8 L409.3,276.2 L409.8,280.5 L410.3,278.5 L410.8,284.8 L411.3,280.2 L411.8,285.1 L412.3,280.5 L412.6,286.0 L412.8,279.7 L413.3,284.4 L413.8,276.9 L414.3,281.1 L414.5,276.2 L414.8,280.7 L415.3,275.4 L415.8,279.3 L416.3,274.0 L416.4,278.3 L416.8,273.1 L417.3,276.8 L417.8,273.1 L418.3,275.3 L418.8,273.4 L419.3,274.7 L419.8,272.4 L420.2,274.0 L420.3,272.5 L420.8,274.9 L421.3,273.7 L421.8,276.9 L422.1,274.1 L422.3,277.1 L422.8,273.6 L423.3,278.1 L423.8,275.8 L424.0,279.2 L424.3,275.4 L424.8,276.2 L425.3,271.0 L425.8,272.0 L426.3,268.8 L426.8,270.4 L427.3,266.3 L427.7,267.9 L427.8,264.8 L428.3,269.3 L428.8,264.1 L429.3,268.6 L429.6,264.1 L429.8,267.6 L430.3,264.3 L430.8,268.2 L431.3,265.2 L431.5,269.3 L431.8,265.5 L432.3,267.8 L432.8,266.0 L433.3,267.4 L433.4,266.0 L433.8,267.5 L434.3,263.9 L434.8,266.1 L435.3,263.1 L435.8,266.9 L436.3,264.6 L436.8,267.9 L437.2,265.3 L437.3,269.4 L437.8,266.9 L438.3,273.6 L438.8,271.5 L439.1,277.5 L439.3,273.1 L439.8,275.8 L440.3,270.8 L440.8,273.8 L440.9,271.4 L441.3,272.9 L441.8,267.6 L442.3,271.1 L442.8,266.3 L443.3,271.8 L443.8,269.4 L444.3,274.8 L444.7,271.1 L444.8,275.7 L445.3,270.8 L445.8,276.0 L446.3,272.4 L446.6,277.4 L446.8,273.1 L447.3,275.9 L447.8,271.7 L448.3,274.4 L448.5,270.0 L448.8,272.4 L449.3,267.9 L449.8,271.8 L450.3,266.7 L450.4,271.0 L450.8,265.4 L451.3,267.5 L451.8,261.3 L452.3,263.5 L452.8,259.4 L453.3,261.7 L453.8,256.8 L454.2,261.0 L454.3,257.6 L454.8,265.3 L455.3,264.8 L455.8,272.0 L456.0,270.3 L456.3,273.0 L456.8,270.7 L456.9,274.5 L457.3,268.1 L457.8,269.5 L458.3,262.5 L458.8,263.8 L459.3,258.3 L459.8,262.3 L460.3,255.4 L460.7,261.8 L460.8,254.8 L461.3,262.5 L461.8,256.1 L462.3,263.2 L462.5,258.6 L462.8,264.4 L463.3,262.1 L463.8,268.5 L464.3,267.0 L464.4,270.9 L464.8,269.8 L465.3,273.8 L465.8,273.2 L466.3,277.3 L466.8,273.6 L467.3,275.8 L467.8,271.5 L468.2,275.4 L468.3,271.3 L468.8,275.9 L469.3,271.0 L469.8,275.7 L470.1,272.3 L470.3,276.9 L470.8,273.0 L471.3,278.8 L471.8,274.2 L472.0,279.5 L472.3,275.4 L472.8,279.8 L473.3,276.0 L473.8,279.5 L473.9,276.9 L474.3,281.1 L474.8,276.8 L475.3,281.1 L475.8,278.2 L476.3,281.6 L476.8,277.2 L477.3,279.7 L477.6,276.4 L477.8,280.9 L478.3,275.3 L478.8,280.0 L479.3,274.1 L479.5,279.9 L479.8,274.4 L480.3,280.9 L480.8,275.1 L481.3,281.5 L481.4,277.0 L481.8,281.6 L482.3,277.6 L482.8,281.4 L483.3,278.0 L483.8,283.1 L484.3,279.7 L484.8,284.4 L485.2,281.7 L485.3,284.2 L485.8,282.6 L486.3,284.1 L486.8,281.6 L487.1,284.2 L487.3,281.1 L487.8,284.8 L488.3,280.2 L488.8,281.9 L489.0,277.6 L489.3,281.2 L489.8,275.1 L490.3,278.6 L490.8,272.0 L491.3,275.7 L491.8,269.2 L492.3,272.6 L492.7,267.1 L492.8,271.4 L493.3,267.1 L493.8,270.9 L494.3,265.5 L494.6,270.0 L494.8,264.8 L495.3,268.6 L495.8,262.4 L496.3,265.6 L496.5,261.6 L496.8,266.5 L497.3,261.4 L497.8,267.3 L498.3,261.8 L498.4,267.5 L498.8,261.4 L499.3,266.8 L499.8,261.3 L500.3,267.8 L500.8,262.0 L501.3,268.8 L501.8,263.0 L502.2,269.7 L502.3,264.4 L502.8,270.5 L503.3,263.9 L503.8,269.8 L504.1,263.6 L504.3,269.6 L504.8,260.9 L505.3,265.4 L505.8,257.2 L505.9,262.1 L506.3,256.6 L506.8,260.9 L507.3,254.3 L507.8,258.5 L508.3,255.2 L508.8,259.1 L509.3,257.2 L509.7,261.4 L509.8,258.7 L510.3,262.6 L510.8,259.1 L511.3,263.8 L511.6,259.7 L511.8,265.0 L512.3,260.9 L512.8,266.2 L513.3,262.0 L513.5,266.5 L513.8,262.7 L514.3,264.3 L514.8,260.2 L515.3,262.0 L515.4,257.2 L515.8,262.6 L516.3,257.4 L516.8,263.6 L517.3,257.6 L517.8,264.5 L518.3,260.4 L518.8,266.8 L519.2,262.8 L519.3,267.5 L519.8,261.8 L520.0,267.0 L520.3,264.0 L520.8,272.0 L521.3,269.5 L521.5,276.8 L521.8,271.9 L522.3,279.4 L522.8,277.5 L523.3,284.2 L523.4,280.8 L523.8,283.0 L524.3,277.2 L524.8,279.3 L525.3,271.0 L525.8,276.4 L526.3,270.1 L526.8,273.9 L527.3,268.5 L527.5,273.1 L527.8,268.6 L528.3,272.9 L528.8,268.2 L529.3,271.9 L529.8,268.1 L530.3,270.3 L530.4,267.6 L530.8,271.9 L531.3,273.0 L531.8,278.2 L532.3,276.6 L532.8,278.4 L533.3,271.5 L533.8,274.3 L534.2,267.3 L534.3,272.4 L534.8,267.3 L535.3,273.2 L535.8,268.1 L536.0,273.6 L536.3,269.2 L536.8,275.6 L537.3,270.6 L537.8,279.7 L537.9,273.0 L538.3,279.1 L538.8,271.0 L539.3,275.0 L539.8,267.5 L540.3,273.2 L540.8,268.2 L541.3,274.1 L541.7,270.6 L541.8,275.4 L542.3,272.3 L542.8,278.9 L543.3,275.7 L543.6,281.0 L543.8,277.1 L544.3,278.7 L544.8,274.0 L545.3,276.0 L545.5,271.4 L545.8,276.4 L546.3,270.1 L546.8,275.1 L547.3,269.2 L547.4,274.4 L547.8,268.7 L548.3,272.7 L548.8,266.9 L549.3,270.3 L549.8,265.3 L550.2,269.5 L550.3,264.0 L550.8,270.1 L551.3,266.3 L551.8,271.5 L552.1,267.8 L552.3,274.1 L552.8,269.6 L553.3,276.4 L553.8,271.8 L554.0,278.3 L554.3,273.1 L554.8,277.3 L555.3,273.1 L555.8,277.4 L556.3,272.2 L556.8,277.6 L557.3,274.0 L557.8,278.1 L558.3,273.5 L558.8,277.4 L559.3,274.0 L559.6,278.3 L559.8,275.3 L560.3,277.2 L560.8,274.8 L561.3,276.1 L561.8,275.1 L562.3,276.2 L562.5,273.5 L562.8,276.4 L563.3,274.9 L563.8,278.2 L564.3,276.5 L564.8,280.1 L565.3,279.7 L565.8,283.0 L566.2,282.6 L566.3,283.3 L566.8,283.7 L567.3,285.7 L567.8,284.5 L568.3,284.8 L568.8,283.9 L569.1,285.7 L569.3,283.7 L569.8,285.1 L570.3,282.4 L570.8,284.7 L571.3,282.7 L571.8,282.9 L571.9,281.6 L572.3,284.1 L572.8,281.1 L573.3,284.6 L573.8,283.0 L574.3,286.8 L574.7,283.8 L574.8,286.8 L575.3,284.4 L575.8,289.2 L576.3,285.5 L576.6,291.2 L576.8,285.7 L577.3,290.2 L577.8,283.3 L578.3,286.3 L578.5,281.3 L578.8,285.6 L579.3,280.9 L579.8,284.4 L580.3,280.3 L580.8,284.8 L581.3,278.9 L581.8,286.0 L582.3,280.3 L582.8,287.9 L583.3,280.6 L583.8,289.1 L584.2,282.9 L584.3,288.0 L584.8,281.4 L585.0,286.3 L585.3,282.7 L585.8,286.5 L586.3,282.2 L586.8,284.5 L586.9,280.7 L587.3,285.7 L587.8,283.7 L588.3,288.3 L588.8,285.6 L589.3,290.0 L589.8,287.6 L590.3,291.2 L590.7,289.0 L590.8,293.4 L591.3,289.6 L591.8,293.8 L592.3,290.9 L592.5,293.7 L592.8,290.8 L593.3,295.8 L593.8,290.7 L594.3,296.8 L594.4,290.8 L594.8,295.8 L595.3,291.2 L595.8,294.3 L596.3,290.1 L596.8,293.2 L597.3,290.2 L597.8,293.3 L598.2,289.9 L598.3,293.2 L598.8,288.4 L599.3,293.1 L599.8,288.2 L600.1,292.4 L600.3,288.5 L600.8,292.1 L601.3,286.1 L601.8,290.3 L602.0,285.6 L602.3,290.3 L602.8,284.9 L603.3,288.6 L603.8,283.9 L603.9,287.5 L604.3,283.0 L604.8,285.8 L605.3,282.9 L605.8,285.3 L606.3,280.0 L606.8,282.2 L607.3,277.8 L607.6,280.6 L607.8,275.8 L608.3,280.9 L608.8,276.8 L609.3,278.0 L609.5,275.2 L609.8,277.9 L610.3,274.0 L610.8,279.9 L611.3,276.0 L611.4,280.0 L611.8,275.0 L612.3,278.6 L612.8,273.5 L613.3,277.3 L613.8,271.0 L614.3,274.9 L614.8,269.3 L615.2,272.0 L615.3,268.0 L615.8,271.0 L616.3,267.0 L616.8,270.5 L617.1,264.8 L617.3,269.6 L617.8,265.3 L618.3,267.0 L618.8,264.2 L619.0,268.1 L619.3,263.9 L619.8,266.2 L620.3,261.1 L620.8,263.0 L621.3,258.3 L621.8,259.8 L622.3,254.5 L622.7,256.9 L622.8,252.5 L623.3,258.0 L623.8,253.0 L624.3,257.5 L624.6,253.1 L624.8,257.4 L625.3,254.7 L625.8,259.9 L626.3,257.7 L626.5,262.1 L626.8,258.3 L627.3,263.2 L627.8,258.5 L628.3,263.0 L628.4,258.1 L628.8,263.5 L629.3,260.9 L629.8,266.1 L630.3,263.4 L630.8,267.3 L631.3,262.9 L631.8,266.8 L632.2,263.3 L632.3,266.4 L632.8,261.6 L633.3,265.0 L633.8,260.1 L634.1,263.6 L634.3,260.9 L634.8,264.9 L635.3,259.7 L635.8,263.7 L635.9,258.7 L636.3,261.7 L636.8,257.5 L637.3,259.6 L637.8,255.3 L638.3,258.7 L638.8,254.2 L639.3,257.3 L639.7,253.7 L639.8,256.6 L640.3,253.1 L640.8,254.3 L641.3,250.9 L641.6,252.6 L641.8,247.9 L642.3,246.0 L642.5,240.7 L642.8,242.8 L643.3,239.2 L643.8,242.8 L643.9,240.0 L644.3,256.1 L644.8,269.9 L645.0,279.3 L645.3,263.5 L645.8,245.2 L646.3,241.4 L646.8,244.5 L647.3,240.4 L647.8,243.7 L648.2,240.0 L648.3,243.1 L648.8,240.8 L649.3,244.2 L649.8,241.0 L650.1,245.8 L650.3,242.7 L650.8,246.2 L651.3,243.2 L651.8,246.7 L651.9,243.7 L652.3,245.4 L652.8,241.2 L653.3,242.5 L653.8,238.0 L654.3,239.8 L654.8,234.8 L655.3,237.0 L655.7,231.7 L655.8,234.3 L656.3,230.9 L656.8,231.1 L657.3,227.4 L657.5,229.1 L657.8,225.0 L658.3,228.8 L658.8,223.3 L659.3,226.2 L659.4,221.6 L659.8,225.9 L660.3,222.2 L660.8,226.8 L661.3,223.1 L661.8,228.1 L662.3,223.6 L662.8,229.9 L663.2,225.0 L663.3,231.3 L663.8,226.1 L664.3,232.7 L664.8,227.4 L665.1,233.5 L665.3,226.6 L665.8,234.6 L666.3,228.7 L666.8,235.1 L667.0,229.0 L667.3,236.7 L667.8,229.8 L668.3,236.9 L668.8,230.7 L668.9,237.5 L669.3,230.0 L669.8,235.5 L670.3,227.6 L670.8,232.1 L671.3,225.6 L671.8,229.7 L672.3,223.8 L672.6,227.0 L672.8,222.8 L673.3,227.6 L673.8,222.5 L674.3,226.7 L674.5,222.8 L674.8,227.7 L675.3,221.3 L675.8,227.6 L676.3,222.0 L676.4,227.6 L676.8,222.7 L677.3,228.5 L677.8,225.6 L678.3,230.4 L678.8,229.4 L679.3,235.9 L679.8,235.0 L680.2,240.3 L680.3,235.3 L680.8,241.4 L681.3,237.5 L681.8,242.0 L682.1,240.0 L682.3,242.7 L682.8,238.4 L683.3,241.1 L683.8,236.3 L684.0,240.1 L684.3,234.6 L684.8,237.4 L685.3,230.8 L685.8,232.9 L686.3,228.9 L686.8,232.2 L687.3,228.4 L687.7,232.2 L687.8,228.6 L688.3,233.1 L688.8,228.0 L689.3,233.9 L689.6,229.6 L689.8,233.9 L690.3,229.6 L690.8,233.7 L691.3,229.5 L691.5,236.0 L691.8,228.2 L692.3,233.5 L692.8,225.5 L693.3,230.6 L693.4,224.5 L693.8,229.1 L694.3,222.9 L694.8,225.1 L695.3,218.5 L695.8,224.5 L696.3,220.2 L696.8,225.4 L697.2,222.9 L697.3,225.6 L697.8,223.1 L698.3,224.6 L698.8,223.7 L699.1,224.9 L699.3,224.5 L699.8,226.8 L700.3,227.9 L700.8,231.5 L700.9,228.7 L701.3,233.2 L701.8,227.8 L702.3,233.2 L702.8,230.0 L703.3,232.3 L703.8,225.4 L704.3,227.1 L704.7,220.0 L704.8,225.3 L705.3,218.6 L705.8,223.7 L706.3,218.0 L706.6,223.1 L706.8,219.1 L707.3,223.7 L707.8,221.3 L708.3,225.6 L708.5,222.5 L708.8,226.7 L709.3,224.1 L709.8,228.4 L710.3,224.2 L710.4,227.9 L710.8,226.9 L711.3,231.9 L711.8,233.0 L712.3,236.1 L712.8,238.2 L713.3,241.1 L713.8,241.2 L714.2,245.4 L714.3,242.8 L714.8,247.4 L715.3,244.6 L715.8,246.1 L716.0,244.5 L716.3,241.3 L716.8,233.5 L717.3,228.6 L717.5,224.5 L717.8,226.8 L718.3,224.9 L718.8,229.7 L718.9,225.2 L719.3,236.6 L719.8,240.3 L720.1,250.1 L720.3,246.2 L720.8,252.3 L721.3,249.2 L721.8,253.8 L722.3,251.3 L722.6,254.8 L722.8,253.4 L723.3,258.3 L723.8,255.5 L724.3,260.3 L724.8,257.6 L725.1,262.3 L725.3,260.1 L725.8,268.7 L726.3,268.8 L726.4,273.7 L726.8,272.2 L727.3,278.4 L727.8,277.7 L728.2,281.9 L728.3,279.0 L728.8,280.3 L729.3,275.6 L729.8,276.7 L730.2,271.5 L730.3,276.2 L730.8,268.4 L731.3,270.6 L731.8,263.9 L732.2,265.5 L732.3,262.2 L732.8,268.4 L733.3,265.3 L733.8,271.5 L733.9,267.4 L734.3,274.3 L734.8,272.8 L735.2,280.7 L735.3,276.5 L735.8,282.5 L736.3,281.6 L736.8,288.1 L737.2,285.3 L737.3,291.5 L737.8,291.4 L738.3,303.0 L738.8,303.1 L739.0,311.7 L739.3,306.0 L739.8,315.2 L740.2,312.6 L740.3,317.5 L740.8,312.3 L741.3,315.4 L741.8,311.4 L742.3,313.1 L742.7,309.3 L742.8,313.0 L743.3,306.5 L743.8,308.2 L744.3,299.8 L744.8,301.3 L745.2,293.2 L745.3,299.0 L745.8,294.5 L746.3,302.7 L746.8,298.7 L747.3,306.9 L747.8,302.3 L748.3,308.8 L748.8,300.7 L749.3,305.1 L749.8,298.6 L750.3,303.7 L750.8,297.2 L751.3,302.8 L751.8,295.9 L752.3,300.8 L752.8,294.4 L753.3,302.2 L753.8,297.4 L754.3,305.8 L754.8,301.3 L755.3,309.6 L755.8,301.5 L756.3,305.5 L756.8,297.8 L757.3,303.3 L757.8,294.3 L758.3,300.5 L758.8,291.1 L759.1,297.7 L759.3,291.7 L759.8,297.2 L760.0,291.5 L760.3,297.9 L760.8,293.4 L761.3,299.4 L761.8,295.6 L761.9,301.1 L762.3,297.7 L762.8,305.4 L763.3,303.4 L763.8,309.0 L764.3,305.8 L764.8,310.2 L765.3,307.3 L765.7,312.6 L765.8,308.5 L766.3,312.1 L766.8,309.2 L767.3,313.2 L767.5,309.1 L767.8,313.2 L768.3,309.1 L768.8,311.9 L769.3,307.2 L769.4,312.6 L769.8,309.4 L770.3,316.6 L770.8,313.0 L771.3,321.1 L771.8,314.9 L772.3,322.2 L772.8,314.7 L773.2,323.4 L773.3,315.0 L773.8,324.6 L774.3,317.1 L774.8,324.9 L775.1,318.1 L775.3,326.1 L775.8,323.2 L776.3,330.7 L776.8,328.5 L777.0,334.6 L777.3,329.3 L777.8,338.8 L778.3,334.1 L778.8,342.0 L778.9,336.3 L779.3,342.0 L779.8,335.1 L780.3,340.7 L780.8,334.2 L781.3,337.2 L781.8,327.4 L782.3,330.7 L782.6,322.3 L782.8,327.4 L783.3,319.0 L783.8,321.1 L784.3,312.8 L784.5,318.0 L784.8,311.1 L785.3,315.8 L785.8,310.5 L786.3,315.3 L786.4,311.8 L786.8,314.9 L787.3,312.3 L787.8,316.5 L788.3,313.4 L788.8,317.8 L789.3,317.1 L789.8,322.4 L790.2,320.6 L790.3,323.2 L790.8,319.2 L791.3,321.9 L791.8,316.7 L792.1,321.8 L792.3,316.3 L792.8,322.7 L793.3,317.1 L793.8,322.8 L794.0,317.9 L794.3,324.8 L794.8,320.0 L795.3,328.5 L795.8,324.4 L796.3,331.6 L796.8,326.7 L797.3,335.4 L797.7,329.6 L797.8,335.4 L798.3,328.7 L798.8,333.7 L799.3,327.5 L799.6,332.4 L799.8,326.7 L800.3,331.4 L800.8,325.3 L801.3,330.2 L801.5,324.0 L801.8,329.2 L802.3,323.9 L802.8,328.6 L803.3,324.4 L803.4,328.3 L803.8,323.7 L804.3,326.0 L804.8,321.4 L805.3,324.0 L805.8,319.2 L806.3,321.7 L806.8,317.5 L807.2,319.8 L807.3,317.5 L807.8,319.6 L808.3,316.1 L808.8,319.0 L809.1,316.0 L809.3,317.7 L809.8,313.5 L810.3,316.2 L810.8,311.5 L810.9,315.4 L811.3,310.4 L811.8,313.5 L812.3,308.7 L812.8,310.5 L813.3,307.9 L813.8,313.2 L814.3,310.1 L814.7,313.9 L814.8,310.8 L815.3,316.0 L815.8,315.1 L816.3,321.1 L816.6,318.7 L816.8,323.4 L817.3,319.5 L817.8,324.8 L818.3,322.1 L818.5,326.5 L818.8,322.0 L819.3,327.2 L819.8,320.9 L820.3,325.1 L820.4,318.9 L820.8,326.9 L821.3,323.4 L821.8,330.7 L822.3,327.4 L822.8,333.9 L823.3,331.3 L823.8,336.6 L824.2,332.8 L824.3,337.9 L824.8,331.4 L825.3,334.6 L825.8,328.4 L826.0,332.2 L826.3,326.9 L826.8,331.3 L827.3,324.7 L827.8,328.0 L827.9,323.1 L828.3,325.4 L828.8,319.1 L829.3,321.1 L829.8,314.9 L830.3,318.9 L830.8,314.5 L831.3,319.2 L831.7,313.5 L831.8,319.1 L832.3,318.2 L832.8,325.4 L833.3,325.5 L833.6,331.4 L833.8,328.5 L834.3,332.8 L834.8,330.6 L835.3,334.0 L835.5,330.5 L835.8,333.3 L836.3,331.0 L836.8,333.1 L837.3,330.3 L837.4,333.3 L837.8,329.3 L838.3,332.1 L838.8,327.8 L839.2,330.7 L839.3,326.4 L839.8,330.0 L840.3,326.1 L840.8,328.5 L841.1,324.0 L841.3,328.0 L841.8,325.0 L842.3,326.9 L842.8,323.1 L843.0,327.3 L843.3,322.5 L843.8,326.7 L844.3,320.4 L844.8,325.8 L844.9,319.9 L845.3,324.6 L845.8,317.5 L846.3,322.5 L846.8,314.8 L847.3,320.0 L847.8,314.5 L848.3,319.7 L848.7,314.3 L848.8,319.6 L849.3,312.6 L849.8,318.4 L850.3,312.5 L850.6,316.9 L850.8,311.9 L851.3,318.1 L851.8,313.9 L852.3,318.7 L852.5,313.7" fill="none" stroke="#6e849d" stroke-width="4.4" stroke-linejoin="round" stroke-linecap="round"/>
<path clip-path="url(#pc)" d="M218.6,344 L218.6,358 L222.8,358 L222.8,343 L220.7,348 Z" fill="#6e849d" stroke="#6e849d" stroke-width="4.4" stroke-linejoin="round"/>
<line x1="152.2" y1="357.0" x2="853.4" y2="357.0" stroke="#4a4a4a" stroke-width="2.1"/>
<line x1="724.6" y1="357.7" x2="724.6" y2="93" stroke="#aa843a" stroke-width="4.6" stroke-dasharray="13.4 4.55"/>
<text x="594.6" y="117.9" font-size="19.5" font-weight="bold" style="fill:#aa843a" textLength="97.8" lengthAdjust="spacing">Russian</text>
<text x="594.6" y="143.0" font-size="19.5" font-weight="bold" style="fill:#aa843a" textLength="110" lengthAdjust="spacing">Invasion</text>
<text x="594.6" y="167.8" font-size="19.5" font-weight="bold" style="fill:#aa843a" textLength="28.6" lengthAdjust="spacing">Of</text>
<text x="594.6" y="193.0" font-size="19.5" font-weight="bold" style="fill:#aa843a" textLength="103.5" lengthAdjust="spacing">Ukraine</text>
</svg>
</body></html>
